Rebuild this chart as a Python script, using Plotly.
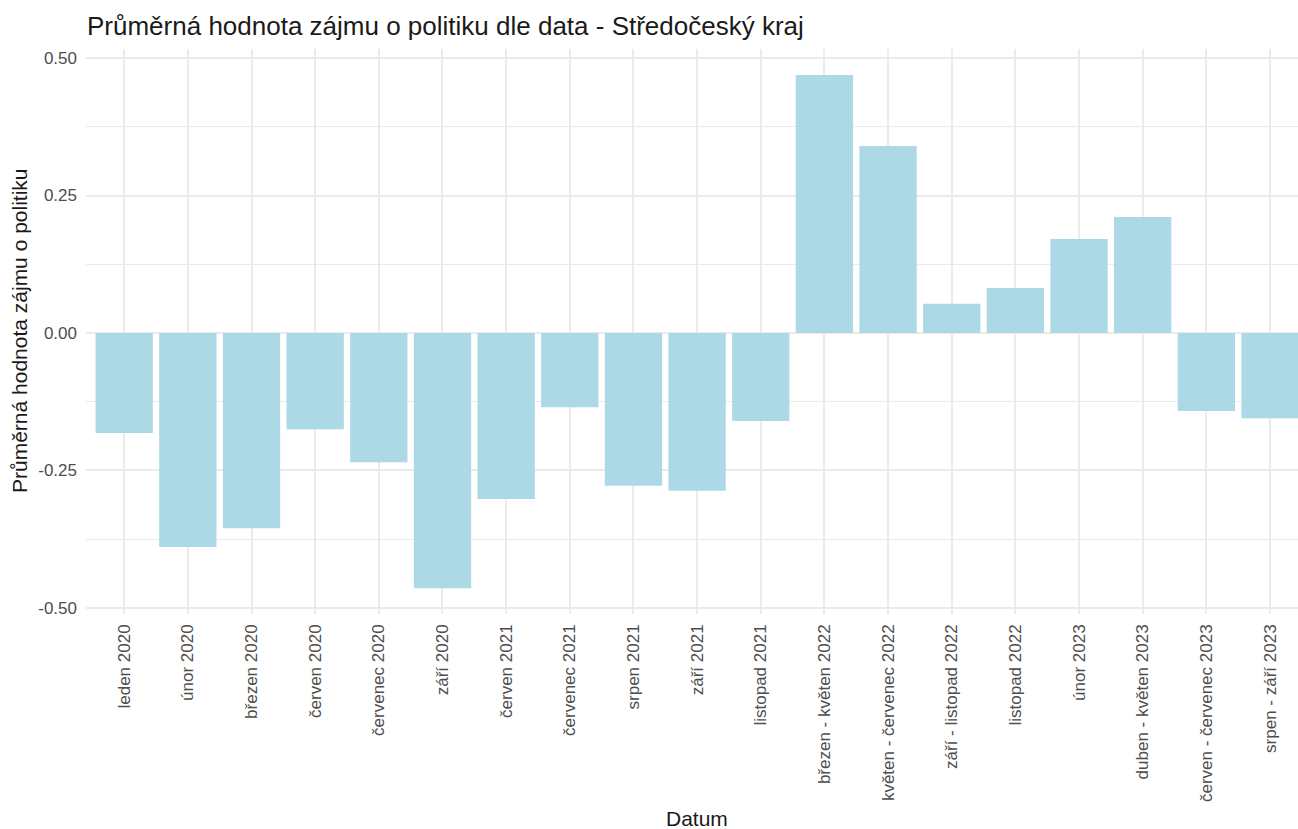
import plotly.graph_objects as go

categories = [
    "leden 2020", "únor 2020", "březen 2020", "červen 2020", "červenec 2020",
    "září 2020", "červen 2021", "červenec 2021", "srpen 2021", "září 2021",
    "listopad 2021", "březen - květen 2022", "květen - červenec 2022",
    "září - listopad 2022", "listopad 2022", "únor 2023", "duben - květen 2023",
    "červen - červenec 2023", "srpen - září 2023",
]
values = [
    -0.182, -0.389, -0.355, -0.175, -0.235,
    -0.464, -0.302, -0.135, -0.278, -0.287,
    -0.160, 0.469, 0.340,
    0.053, 0.082, 0.171, 0.211,
    -0.142, -0.155,
]
y_ticks = [-0.5, -0.25, 0.0, 0.25, 0.5]
y_tick_labels = ["-0.50", "-0.25", "0.00", "0.25", "0.50"]

title_text = "Průměrná hodnota zájmu o politiku dle data - Středočeský kraj"
x_title = "Datum"
y_title = "Průměrná hodnota zájmu o politiku"

FONT = "Liberation Sans, Arial, sans-serif"
GRID = "#EBEBEB"

fig = go.Figure()
fig.add_trace(go.Bar(
    x=list(range(len(categories))),
    y=values,
    width=0.9,
    marker=dict(color="#ADD8E6", line=dict(width=0)),
    hovertext=categories,
))

fig.update_layout(
    width=1298, height=829,
    margin=dict(l=86, r=0, t=49, b=215, autoexpand=False),
    paper_bgcolor="white", plot_bgcolor="white",
    showlegend=False,
    font=dict(family=FONT, color="#4D4D4D"),
    title=dict(text=title_text, x=87 / 1298, xanchor="left", y=1 - 26 / 829, yanchor="middle",
               font=dict(family=FONT, size=26, color="#1A1A1A")),
    xaxis=dict(
        automargin=False,
        tickmode="array",
        tickvals=list(range(len(categories))),
        ticktext=categories,
        tickangle=-90,
        range=[-0.6, 18 + 28 / 63.67],
        showgrid=True, gridcolor=GRID, gridwidth=2,
        zeroline=False, showline=False,
        ticks="", ticklabelstandoff=6,
        tickfont=dict(family=FONT, size=17, color="#4D4D4D"),
    ),
    yaxis=dict(
        automargin=False,
        tickmode="array",
        tickvals=y_ticks,
        ticktext=y_tick_labels,
        range=[-0.511, 0.5164],
        showgrid=True, gridcolor=GRID, gridwidth=2,
        minor=dict(tickmode="array", tickvals=[-0.375, -0.125, 0.125, 0.375],
                   showgrid=True, gridcolor=GRID, gridwidth=1.3),
        zeroline=False, showline=False,
        ticks="", ticklabelstandoff=8,
        tickfont=dict(family=FONT, size=17, color="#4D4D4D"),
    ),
    annotations=[
        dict(text=x_title, xref="paper", yref="paper", x=(697 - 86) / 1212, y=-(819 - 614) / 565,
             xanchor="center", yanchor="middle", showarrow=False,
             font=dict(family=FONT, size=21, color="#1A1A1A")),
        dict(text=y_title, xref="paper", yref="paper", x=-(86 - 19) / 1212, y=(614 - 331) / 565,
             xanchor="center", yanchor="middle", showarrow=False, textangle=-90,
             font=dict(family=FONT, size=21, color="#1A1A1A")),
    ],
)

fig.write_html("out.html",
               config={"displayModeBar": False},
               post_script="document.body.style.margin='0';document.body.style.overflow='hidden';")
